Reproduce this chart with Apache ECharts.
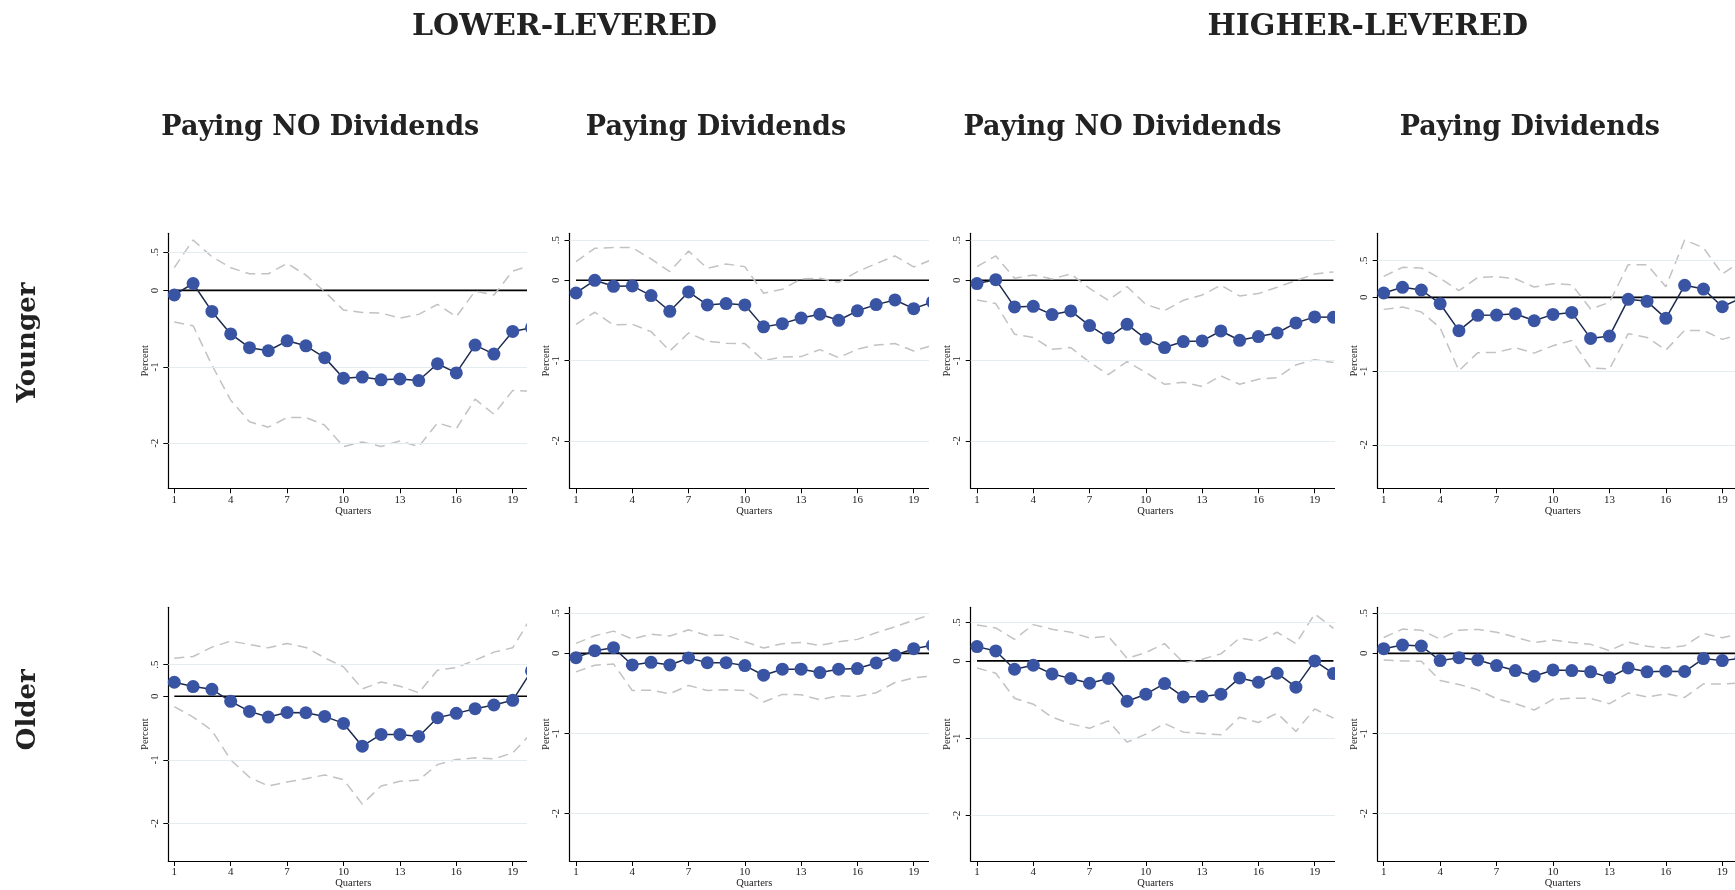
<!DOCTYPE html>
<html><head><meta charset="utf-8">
<script src="https://cdn.jsdelivr.net/npm/echarts@6/dist/echarts.min.js"></script>
<style>
html,body{margin:0;padding:0;background:#fff;width:1735px;height:890px;overflow:hidden;position:relative;}
#bg{position:absolute;left:0;top:0;width:1735px;height:890px;}
.clip{position:absolute;overflow:hidden;}
.chart{position:absolute;left:0;top:0;}
</style></head><body>
<div id="bg"></div>
<script>
// ---------------- DATA ----------------
const quarters = [1,2,3,4,5,6,7,8,9,10,11,12,13,14,15,16,17,18,19,20];
const xTicks = [1,4,7,10,13,16,19];
const yTicks = [0.5,0,-1,-2];
const groupTitles = ['LOWER-LEVERED','HIGHER-LEVERED'];
const panelTitles = ['Paying NO Dividends','Paying Dividends','Paying NO Dividends','Paying Dividends'];
const rowTitles = ['Younger','Older'];

// Younger, lower-levered, paying no dividends
const youngLowNoDivEst = [-0.06,0.09,-0.275,-0.57,-0.75,-0.79,-0.66,-0.725,-0.88,-1.15,-1.135,-1.17,-1.16,-1.18,-0.96,-1.08,-0.716,-0.834,-0.537,-0.49];
const youngLowNoDivHi  = [0.297,0.66,0.44,0.297,0.218,0.218,0.354,0.2,-0.017,-0.258,-0.288,-0.297,-0.362,-0.314,-0.183,-0.345,-0.009,-0.061,0.253,0.33];
const youngLowNoDivLo  = [-0.415,-0.463,-0.978,-1.437,-1.72,-1.79,-1.664,-1.664,-1.764,-2.044,-1.983,-2.044,-1.97,-2.044,-1.734,-1.808,-1.424,-1.62,-1.31,-1.32];
// Younger, lower-levered, paying dividends
const youngLowDivEst = [-0.158,0.0,-0.075,-0.07,-0.19,-0.386,-0.145,-0.307,-0.29,-0.307,-0.58,-0.54,-0.47,-0.423,-0.498,-0.38,-0.303,-0.245,-0.353,-0.27];
const youngLowDivHi  = [0.232,0.398,0.407,0.407,0.266,0.108,0.365,0.149,0.203,0.17,-0.162,-0.112,0.017,0.025,-0.025,0.108,0.207,0.303,0.166,0.26];
const youngLowDivLo  = [-0.548,-0.398,-0.556,-0.548,-0.639,-0.88,-0.656,-0.76,-0.784,-0.788,-1.0,-0.954,-0.95,-0.863,-0.963,-0.859,-0.805,-0.788,-0.88,-0.81];
// Younger, higher-levered, paying no dividends
const youngHighNoDivEst = [-0.041,0.008,-0.332,-0.324,-0.427,-0.382,-0.564,-0.714,-0.548,-0.73,-0.838,-0.763,-0.755,-0.631,-0.747,-0.701,-0.656,-0.531,-0.456,-0.46];
const youngHighNoDivHi  = [0.17,0.303,0.025,0.066,0.017,0.079,-0.1,-0.249,-0.079,-0.3,-0.378,-0.249,-0.183,-0.062,-0.195,-0.166,-0.087,-0.004,0.079,0.104];
const youngHighNoDivLo  = [-0.245,-0.29,-0.672,-0.714,-0.859,-0.838,-1.02,-1.174,-1.012,-1.149,-1.295,-1.27,-1.324,-1.19,-1.295,-1.232,-1.212,-1.054,-0.988,-1.025];
// Younger, higher-levered, paying dividends
const youngHighDivEst = [0.059,0.136,0.1,-0.086,-0.452,-0.244,-0.24,-0.222,-0.317,-0.231,-0.204,-0.557,-0.525,-0.027,-0.054,-0.285,0.163,0.113,-0.127,-0.01];
const youngHighDivHi  = [0.285,0.407,0.398,0.258,0.09,0.271,0.28,0.253,0.14,0.186,0.172,-0.158,-0.068,0.443,0.443,0.145,0.778,0.674,0.317,0.49];
const youngHighDivLo  = [-0.163,-0.131,-0.199,-0.412,-0.995,-0.751,-0.747,-0.683,-0.756,-0.656,-0.584,-0.955,-0.973,-0.493,-0.543,-0.715,-0.448,-0.448,-0.57,-0.5];
// Older, lower-levered, paying no dividends
const oldLowNoDivEst = [0.221,0.153,0.11,-0.079,-0.237,-0.326,-0.253,-0.258,-0.316,-0.426,-0.784,-0.6,-0.6,-0.632,-0.337,-0.268,-0.195,-0.137,-0.063,0.40];
const oldLowNoDivHi  = [0.6,0.626,0.774,0.868,0.816,0.763,0.832,0.768,0.605,0.463,0.116,0.226,0.158,0.058,0.41,0.453,0.568,0.695,0.763,1.25];
const oldLowNoDivLo  = [-0.163,-0.326,-0.537,-1.0,-1.274,-1.41,-1.347,-1.295,-1.237,-1.31,-1.695,-1.41,-1.337,-1.316,-1.074,-0.995,-0.968,-0.984,-0.889,-0.58];
// Older, lower-levered, paying dividends
const oldLowDivEst = [-0.054,0.033,0.07,-0.145,-0.112,-0.145,-0.058,-0.116,-0.116,-0.153,-0.273,-0.198,-0.198,-0.24,-0.198,-0.19,-0.12,-0.025,0.058,0.1];
const oldLowDivHi  = [0.124,0.219,0.277,0.178,0.24,0.215,0.293,0.223,0.227,0.145,0.066,0.12,0.136,0.099,0.145,0.174,0.256,0.331,0.413,0.49];
const oldLowDivLo  = [-0.231,-0.149,-0.132,-0.463,-0.459,-0.504,-0.401,-0.463,-0.455,-0.463,-0.607,-0.512,-0.517,-0.579,-0.529,-0.537,-0.492,-0.364,-0.306,-0.28];
// Older, higher-levered, paying no dividends
const oldHighNoDivEst = [0.185,0.129,-0.108,-0.056,-0.168,-0.228,-0.289,-0.228,-0.522,-0.431,-0.293,-0.466,-0.461,-0.431,-0.22,-0.276,-0.159,-0.34,0.0,-0.164];
const oldHighNoDivHi  = [0.466,0.427,0.28,0.47,0.41,0.371,0.297,0.319,0.034,0.108,0.224,-0.022,0.022,0.091,0.297,0.254,0.371,0.224,0.608,0.422];
const oldHighNoDivLo  = [-0.091,-0.159,-0.483,-0.56,-0.728,-0.815,-0.871,-0.776,-1.052,-0.948,-0.81,-0.922,-0.94,-0.957,-0.728,-0.797,-0.677,-0.914,-0.621,-0.741];
// Older, higher-levered, paying dividends
const oldHighDivEst = [0.058,0.103,0.091,-0.091,-0.054,-0.083,-0.153,-0.215,-0.285,-0.207,-0.215,-0.231,-0.302,-0.182,-0.231,-0.223,-0.227,-0.066,-0.091,-0.06];
const oldHighDivHi  = [0.198,0.302,0.289,0.178,0.289,0.298,0.264,0.202,0.136,0.165,0.136,0.112,0.033,0.14,0.087,0.066,0.095,0.248,0.194,0.25];
const oldHighDivLo  = [-0.083,-0.095,-0.099,-0.339,-0.388,-0.455,-0.566,-0.628,-0.707,-0.574,-0.558,-0.562,-0.628,-0.496,-0.545,-0.504,-0.55,-0.38,-0.384,-0.37];

// ---------------- LAYOUT ----------------
const colAxisPx = [168.3,569.5,970.7,1377.7];
const colX1Px   = [174.3,576,977,1383.7];
const colUnitPx = [18.8,18.76,18.76,18.81];
const colRightPx= [527.3,929,1335.3,1735];
const rowTopPx  = [233.3,607.3];
const rowBotPx  = [488.3,861];
const yMin = -2.59;
const yMaxes = [[0.747,0.585,0.585,0.869],[1.40,0.574,0.694,0.574]];
const xMaxVal = 20.36;

const panels = [
  [[youngLowNoDivEst,youngLowNoDivHi,youngLowNoDivLo],[youngLowDivEst,youngLowDivHi,youngLowDivLo],
   [youngHighNoDivEst,youngHighNoDivHi,youngHighNoDivLo],[youngHighDivEst,youngHighDivHi,youngHighDivLo]],
  [[oldLowNoDivEst,oldLowNoDivHi,oldLowNoDivLo],[oldLowDivEst,oldLowDivHi,oldLowDivLo],
   [oldHighNoDivEst,oldHighNoDivHi,oldHighNoDivLo],[oldHighDivEst,oldHighDivHi,oldHighDivLo]]
];

const SERIF = "'Liberation Serif','Times New Roman',serif";
const TITLE = "'DejaVu Serif',serif";
const fmtY = v => {
  if (v === 0) return '0';
  const s = String(Math.abs(v)).replace(/^0/, '');
  return (v < 0 ? '-' : '') + s;
};

// ---------------- BACKGROUND TITLES ----------------
const bg = echarts.init(document.getElementById('bg'));
const gfx = [];
const groupCx = [564.5, 1367.7];
groupTitles.forEach((t,i) => gfx.push({type:'text', x:groupCx[i], y:27,
  style:{text:t, font:"bold 30px "+TITLE, fill:'#222', textAlign:'center', textVerticalAlign:'middle'}}));
const panelCx = [320.3, 716, 1122.5, 1529.8];
panelTitles.forEach((t,i) => gfx.push({type:'text', x:panelCx[i], y:128,
  style:{text:t, font:"bold 27px "+TITLE, fill:'#222', textAlign:'center', textVerticalAlign:'middle'}}));
const rowCy = [342.5, 709.8];
rowTitles.forEach((t,i) => gfx.push({type:'text', x:28, y:rowCy[i], rotation:Math.PI/2,
  style:{text:t, font:"bold 26px "+TITLE, fill:'#222', textAlign:'center', textVerticalAlign:'middle'}}));
bg.setOption({animation:false, graphic:{elements:gfx}});

// ---------------- PANELS ----------------
panels.forEach((row, r) => row.forEach((p, c) => {
  const [est, hi, lo] = p;
  const axisPx = colAxisPx[c], unit = colUnitPx[c];
  const divLeft = Math.floor(axisPx - 48);
  const divTop = Math.floor(rowTopPx[r] - 22);
  const divW = Math.round(colRightPx[c] - divLeft);
  const divH = Math.round(rowBotPx[r] + 40 - divTop);
  const xMin = 1 - (colX1Px[c] - axisPx) / unit;
  const gridLeft = axisPx - divLeft;
  const gridTop = rowTopPx[r] - divTop;
  const gridW = (xMaxVal - xMin) * unit;
  const gridH = rowBotPx[r] - rowTopPx[r];
  const chartW = Math.ceil(gridLeft + gridW + 12);

  const clip = document.createElement('div');
  clip.className = 'clip';
  clip.style.left = divLeft + 'px'; clip.style.top = divTop + 'px';
  clip.style.width = divW + 'px'; clip.style.height = divH + 'px';
  const inner = document.createElement('div');
  inner.className = 'chart';
  inner.style.width = chartW + 'px'; inner.style.height = divH + 'px';
  clip.appendChild(inner);
  document.body.appendChild(clip);

  const ch = echarts.init(inner);
  const pts = arr => quarters.map((q,i) => [q, arr[i]]);
  ch.setOption({
    animation:false,
    grid:{left:gridLeft, top:gridTop, width:gridW, height:gridH, containLabel:false},
    xAxis:{type:'value', min:xMin, max:xMaxVal,
      axisLine:{show:true, onZero:false, lineStyle:{color:'#000', width:1.2}},
      axisTick:{show:true, length:5, customValues:xTicks, lineStyle:{color:'#000', width:1}},
      axisLabel:{customValues:xTicks, margin:6, fontFamily:SERIF, fontSize:11, color:'#222'},
      splitLine:{show:false},
      name:'Quarters', nameLocation:'middle', nameGap:17, nameMoveOverlap:false,
      nameTextStyle:{fontFamily:SERIF, fontSize:10.5, color:'#222'}},
    yAxis:{type:'value', min:yMin, max:yMaxes[r][c],
      axisLine:{show:true, onZero:false, lineStyle:{color:'#000', width:1.2}},
      axisTick:{show:true, length:5, customValues:yTicks, lineStyle:{color:'#000', width:1}},
      axisLabel:{customValues:yTicks, rotate:90, margin:8, formatter:fmtY, fontFamily:SERIF, fontSize:11, color:'#222'},
      splitLine:{show:false},
      name:'Percent', nameLocation:'middle', nameRotate:90, nameGap:18, nameMoveOverlap:false,
      nameTextStyle:{fontFamily:SERIF, fontSize:10.5, color:'#222'}},
    series:[
      {type:'line', data:pts(quarters.map(() => 0)), symbol:'none', silent:true, z:1,
       lineStyle:{opacity:0},
       markLine:{silent:true, symbol:['none','none'], label:{show:false},
         lineStyle:{color:'#e3edef', width:1.2, type:'solid'},
         data:yTicks.filter(v => v !== 0).map(v => ({yAxis:v}))}},
      {type:'line', data:pts(quarters.map(() => 0)), symbol:'none', silent:true, z:2,
       lineStyle:{color:'#000', width:1.6}},
      {type:'line', data:pts(hi), symbol:'none', silent:true, z:3,
       lineStyle:{color:'#c2c2c2', width:1.5, type:[10,6]}},
      {type:'line', data:pts(lo), symbol:'none', silent:true, z:3,
       lineStyle:{color:'#c2c2c2', width:1.5, type:[10,6]}},
      {type:'line', data:pts(est), symbol:'circle', symbolSize:13, silent:true, z:5,
       itemStyle:{color:'#3a54a4', borderWidth:0},
       lineStyle:{color:'#1b2a4e', width:1.5}}
    ]
  });
}));
</script>
</body></html>
